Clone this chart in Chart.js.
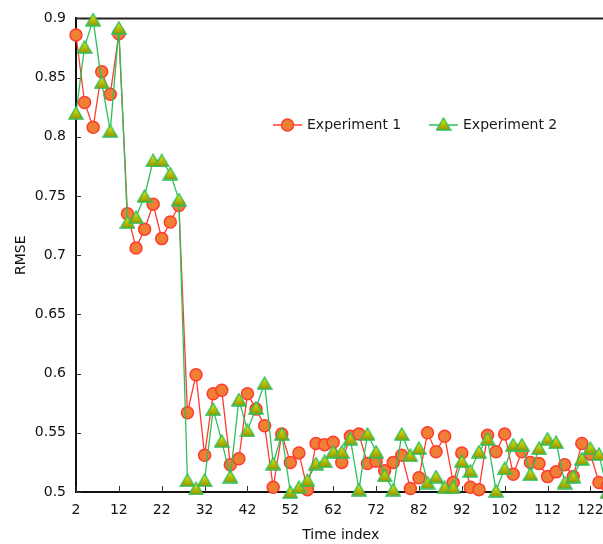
<!DOCTYPE html>
<html>
<head>
<meta charset="utf-8">
<script src="https://cdn.jsdelivr.net/npm/chart.js@4.4.0/dist/chart.umd.min.js"></script>
<style>
  html,body{margin:0;padding:0;background:#fff;overflow:hidden}
  #wrap{width:603px;height:544px;overflow:hidden}
</style>
</head>
<body>
<div id="wrap"><canvas id="grafico" width="614" height="544"></canvas></div>
<script>
/* ---------- datos ---------- */
const tiempo = [2,4,6,8,10,12,14,16,18,20,22,24,26,28,30,32,34,36,38,40,42,44,46,48,50,52,54,56,58,60,
  62,64,66,68,70,72,74,76,78,80,82,84,86,88,90,92,94,96,98,100,102,104,106,108,110,112,114,116,118,120,122,124,126];

const exp1 = [0.886,0.829,0.808,0.855,0.836,0.887,0.735,0.706,0.722,0.743,0.714,0.728,0.742,0.567,0.599,0.531,
  0.583,0.586,0.523,0.528,0.583,0.570,0.556,0.504,0.549,0.525,0.533,0.502,0.541,0.540,0.542,0.525,0.547,0.549,
  0.524,0.526,0.518,0.525,0.531,0.503,0.512,0.550,0.534,0.547,0.508,0.533,0.504,0.502,0.548,0.534,0.549,0.515,
  0.534,0.525,0.524,0.513,0.517,0.523,0.513,0.541,0.532,0.508,0.505];

const exp2 = [0.820,0.876,0.899,0.846,0.805,0.892,0.728,0.732,0.750,0.780,0.780,0.769,0.747,0.510,0.503,0.510,
  0.570,0.543,0.513,0.578,0.552,0.571,0.592,0.524,0.549,0.500,0.504,0.510,0.524,0.526,0.534,0.534,0.545,0.502,
  0.549,0.534,0.514,0.502,0.549,0.531,0.537,0.508,0.513,0.504,0.504,0.526,0.518,0.534,0.545,0.501,0.520,0.540,
  0.540,0.515,0.537,0.545,0.542,0.508,0.513,0.528,0.537,0.532,0.500];

const ticksX = [2,12,22,32,42,52,62,72,82,92,102,112,122];
const ticksY = [0.5,0.55,0.6,0.65,0.7,0.75,0.8,0.85,0.9];
const nombres = ['Experiment 1','Experiment 2'];

/* ---------- estilos ---------- */
const FUENTE = '"DejaVu Sans", Verdana, sans-serif';
const ROJO = '#ff3b2f', NARANJA = '#ee7f35', VERDE = '#2fbf5a';

// triángulo con degradado amarillo-oliva
function triangulo(){
  const c = document.createElement('canvas');
  c.width = 16; c.height = 14;
  const g = c.getContext('2d');
  const grad = g.createLinearGradient(0,1,0,13);
  grad.addColorStop(0,'#eeee00');
  grad.addColorStop(1,'#949400');
  g.beginPath();
  g.moveTo(8,1); g.lineTo(15,13); g.lineTo(1,13); g.closePath();
  g.fillStyle = grad; g.fill();
  g.lineWidth = 1.4; g.strokeStyle = VERDE; g.stroke();
  return c;
}
const TRI = triangulo();

const pts = arr => tiempo.map((x,i)=>({x, y:arr[i]}));

/* ---------- marco, ticks hacia dentro y leyenda ---------- */
const marco = {
  id:'marco',
  beforeDatasetsDraw(chart){
    const {ctx, chartArea:a, scales:{x, y}} = chart;
    ctx.save();
    ctx.strokeStyle = '#222'; ctx.lineWidth = 2;
    ctx.beginPath(); ctx.moveTo(a.left, a.top); ctx.lineTo(a.right, a.top); ctx.stroke();
    ctx.lineWidth = 1; ctx.strokeStyle = '#333';
    ticksX.forEach(v=>{
      const px = Math.round(x.getPixelForValue(v))+0.5;
      ctx.beginPath(); ctx.moveTo(px, a.bottom); ctx.lineTo(px, a.bottom-6); ctx.stroke();
    });
    ticksY.forEach(v=>{
      const py = Math.round(y.getPixelForValue(v))+0.5;
      ctx.beginPath(); ctx.moveTo(a.left, py); ctx.lineTo(a.left+5, py); ctx.stroke();
    });
    ctx.restore();
  },
  afterDraw(chart){
    const ctx = chart.ctx;
    const items = [{x0:273, ds:chart.data.datasets[0]}, {x0:429, ds:chart.data.datasets[1]}];
    const yL = 125;
    ctx.save();
    items.forEach(it=>{
      ctx.strokeStyle = it.ds.borderColor; ctx.lineWidth = 1.5;
      ctx.beginPath(); ctx.moveTo(it.x0, yL); ctx.lineTo(it.x0+29, yL); ctx.stroke();
      const cx = it.x0+14.5;
      if(it.ds.pointStyle==='circle'){
        ctx.beginPath(); ctx.arc(cx, yL, 6, 0, Math.PI*2);
        ctx.fillStyle = it.ds.pointBackgroundColor; ctx.fill();
        ctx.lineWidth = 1.5; ctx.strokeStyle = it.ds.pointBorderColor; ctx.stroke();
      } else {
        ctx.drawImage(TRI, cx-8, yL-8);
      }
      ctx.fillStyle = '#1a1a1a'; ctx.font = '14px '+FUENTE;
      ctx.textBaseline = 'middle'; ctx.textAlign = 'left';
      ctx.fillText(it.ds.label, it.x0+34, yL);
    });
    ctx.restore();
  }
};

/* ---------- gráfico ---------- */
new Chart(document.getElementById('grafico'), {
  type:'line',
  data:{datasets:[
    {label:nombres[0], data:pts(exp1), order:1, borderColor:ROJO, borderWidth:1.3, tension:0,
     pointStyle:'circle', pointRadius:6, pointBackgroundColor:NARANJA, pointBorderColor:ROJO, pointBorderWidth:1.5,
     clip:false},
    {label:nombres[1], data:pts(exp2), order:0, borderColor:VERDE, borderWidth:1.3, tension:0,
     pointStyle:TRI, pointRadius:7, clip:false}
  ]},
  options:{
    responsive:false, animation:false, devicePixelRatio:1,
    layout:{padding:{top:13, right:0, left:0, bottom:0}},
    plugins:{legend:{display:false}, tooltip:{enabled:false}},
    scales:{
      x:{type:'linear', min:2, max:125.5,
         afterBuildTicks:s=>{s.ticks = ticksX.map(v=>({value:v}));},
         afterFit:s=>{s.height = 52;},
         grid:{display:false, drawTicks:false},
         border:{color:'#111', width:2},
         ticks:{color:'#111', padding:10, maxRotation:0, autoSkip:false, font:{family:FUENTE, size:14}},
         title:{display:true, text:'Time index', color:'#111', padding:{top:0,bottom:0}, font:{family:FUENTE, size:14}}},
      y:{type:'linear', min:0.5, max:0.9,
         afterBuildTicks:s=>{s.ticks = ticksY.map(v=>({value:v}));},
         afterFit:s=>{s.width = 76;},
         grid:{display:false, drawTicks:false},
         border:{color:'#111', width:2},
         ticks:{color:'#111', padding:10, autoSkip:false, font:{family:FUENTE, size:14},
                callback:v=>String(+v.toFixed(2))},
         title:{display:true, text:'RMSE', color:'#111', padding:{top:13,bottom:0}, font:{family:FUENTE, size:14}}}
    }
  },
  plugins:[marco]
});
</script>
</body>
</html>
